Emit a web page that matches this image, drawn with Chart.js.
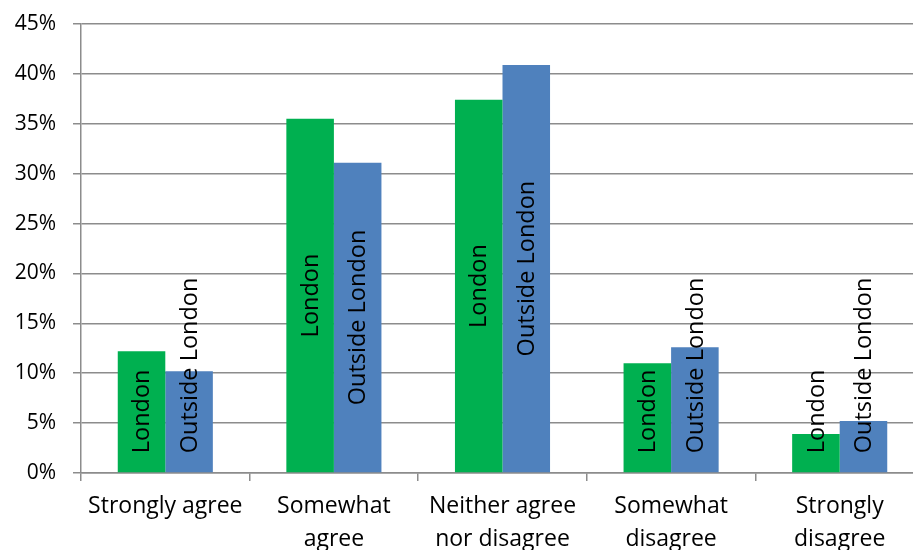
<!DOCTYPE html>
<html lang="en">
<head>
    <meta charset="UTF-8">
    <title>London vs Outside London</title>
    <script src="https://cdn.jsdelivr.net/npm/chart.js"></script>
    <style>
        html, body { margin: 0; padding: 0; overflow: hidden; background: #fff; }
        #wrap { width: 940px; height: 565px; }
        canvas { display: block; }
    </style>
</head>
<body>
    <div id="wrap">
        <canvas id="surveyChart" width="940" height="565"></canvas>
    </div>
    <script>
        const categories = [
            'Strongly agree',
            ['Somewhat', 'agree'],
            ['Neither agree', 'nor disagree'],
            ['Somewhat', 'disagree'],
            ['Strongly', 'disagree']
        ];
        const seriesNames = ['London', 'Outside London'];
        const londonValues = [12.2, 35.5, 37.4, 11.0, 3.9];
        const outsideValues = [10.2, 31.1, 40.9, 12.6, 5.2];
        const yTickValues = [0, 5, 10, 15, 20, 25, 30, 35, 40, 45];

        const fontFamily = '"Open Sans", "Noto Sans", sans-serif';
        const gridColor = '#8c8c8c';

        // vertical series names drawn inside each bar, like Excel's centred labels
        const barNamePlugin = {
            id: 'barNames',
            afterDatasetsDraw(chart) {
                const ctx = chart.ctx;
                ctx.save();
                ctx.font = '23.5px ' + fontFamily;
                ctx.fillStyle = '#000';
                ctx.textAlign = 'center';
                ctx.textBaseline = 'middle';
                chart.data.datasets.forEach((ds, i) => {
                    const meta = chart.getDatasetMeta(i);
                    meta.data.forEach(bar => {
                        const text = ds.label;
                        const len = ctx.measureText(text).width;
                        let cy = (bar.y + bar.base) / 2;
                        const maxBottom = bar.base - 19;
                        if (cy + len / 2 > maxBottom) cy = maxBottom - len / 2;
                        ctx.save();
                        ctx.translate(bar.x, cy);
                        ctx.rotate(-Math.PI / 2);
                        ctx.fillText(text, 0, 1);
                        ctx.restore();
                    });
                });
                ctx.restore();
            }
        };

        new Chart(document.getElementById('surveyChart'), {
            type: 'bar',
            data: {
                labels: categories,
                datasets: [
                    {
                        label: seriesNames[0],
                        data: londonValues,
                        backgroundColor: '#00B050',
                        barPercentage: 1,
                        categoryPercentage: 0.564
                    },
                    {
                        label: seriesNames[1],
                        data: outsideValues,
                        backgroundColor: '#4F81BD',
                        barPercentage: 1,
                        categoryPercentage: 0.564
                    }
                ]
            },
            options: {
                responsive: false,
                animation: false,
                layout: { padding: { top: 24, right: 16, left: 0, bottom: 0 } },
                plugins: {
                    legend: { display: false },
                    tooltip: { enabled: false }
                },
                scales: {
                    x: {
                        grid: {
                            offset: true,
                            drawOnChartArea: false,
                            drawTicks: true,
                            tickLength: 8,
                            color: gridColor,
                            lineWidth: 1.5
                        },
                        border: { color: gridColor, width: 1.5 },
                        ticks: {
                            color: '#000',
                            font: { family: fontFamily, size: 23, lineHeight: 1.43 },
                            padding: 9,
                            maxRotation: 0,
                            autoSkip: false
                        },
                        afterFit(scale) { scale.height = 92; }
                    },
                    y: {
                        min: 0,
                        max: 45,
                        afterBuildTicks(scale) {
                            scale.ticks = yTickValues.map(v => ({ value: v }));
                        },
                        grid: {
                            color: gridColor,
                            lineWidth: 1.5,
                            tickLength: 8
                        },
                        border: { color: gridColor, width: 1.5 },
                        ticks: {
                            color: '#000',
                            font: { family: fontFamily, size: 21 },
                            padding: 17,
                            callback: v => v + '%'
                        },
                        afterFit(scale) {
                            scale.width = 81;
                            scale.paddingTop = 0;
                            scale.paddingBottom = 0;
                        }
                    }
                }
            },
            plugins: [barNamePlugin]
        });
    </script>
</body>
</html>
